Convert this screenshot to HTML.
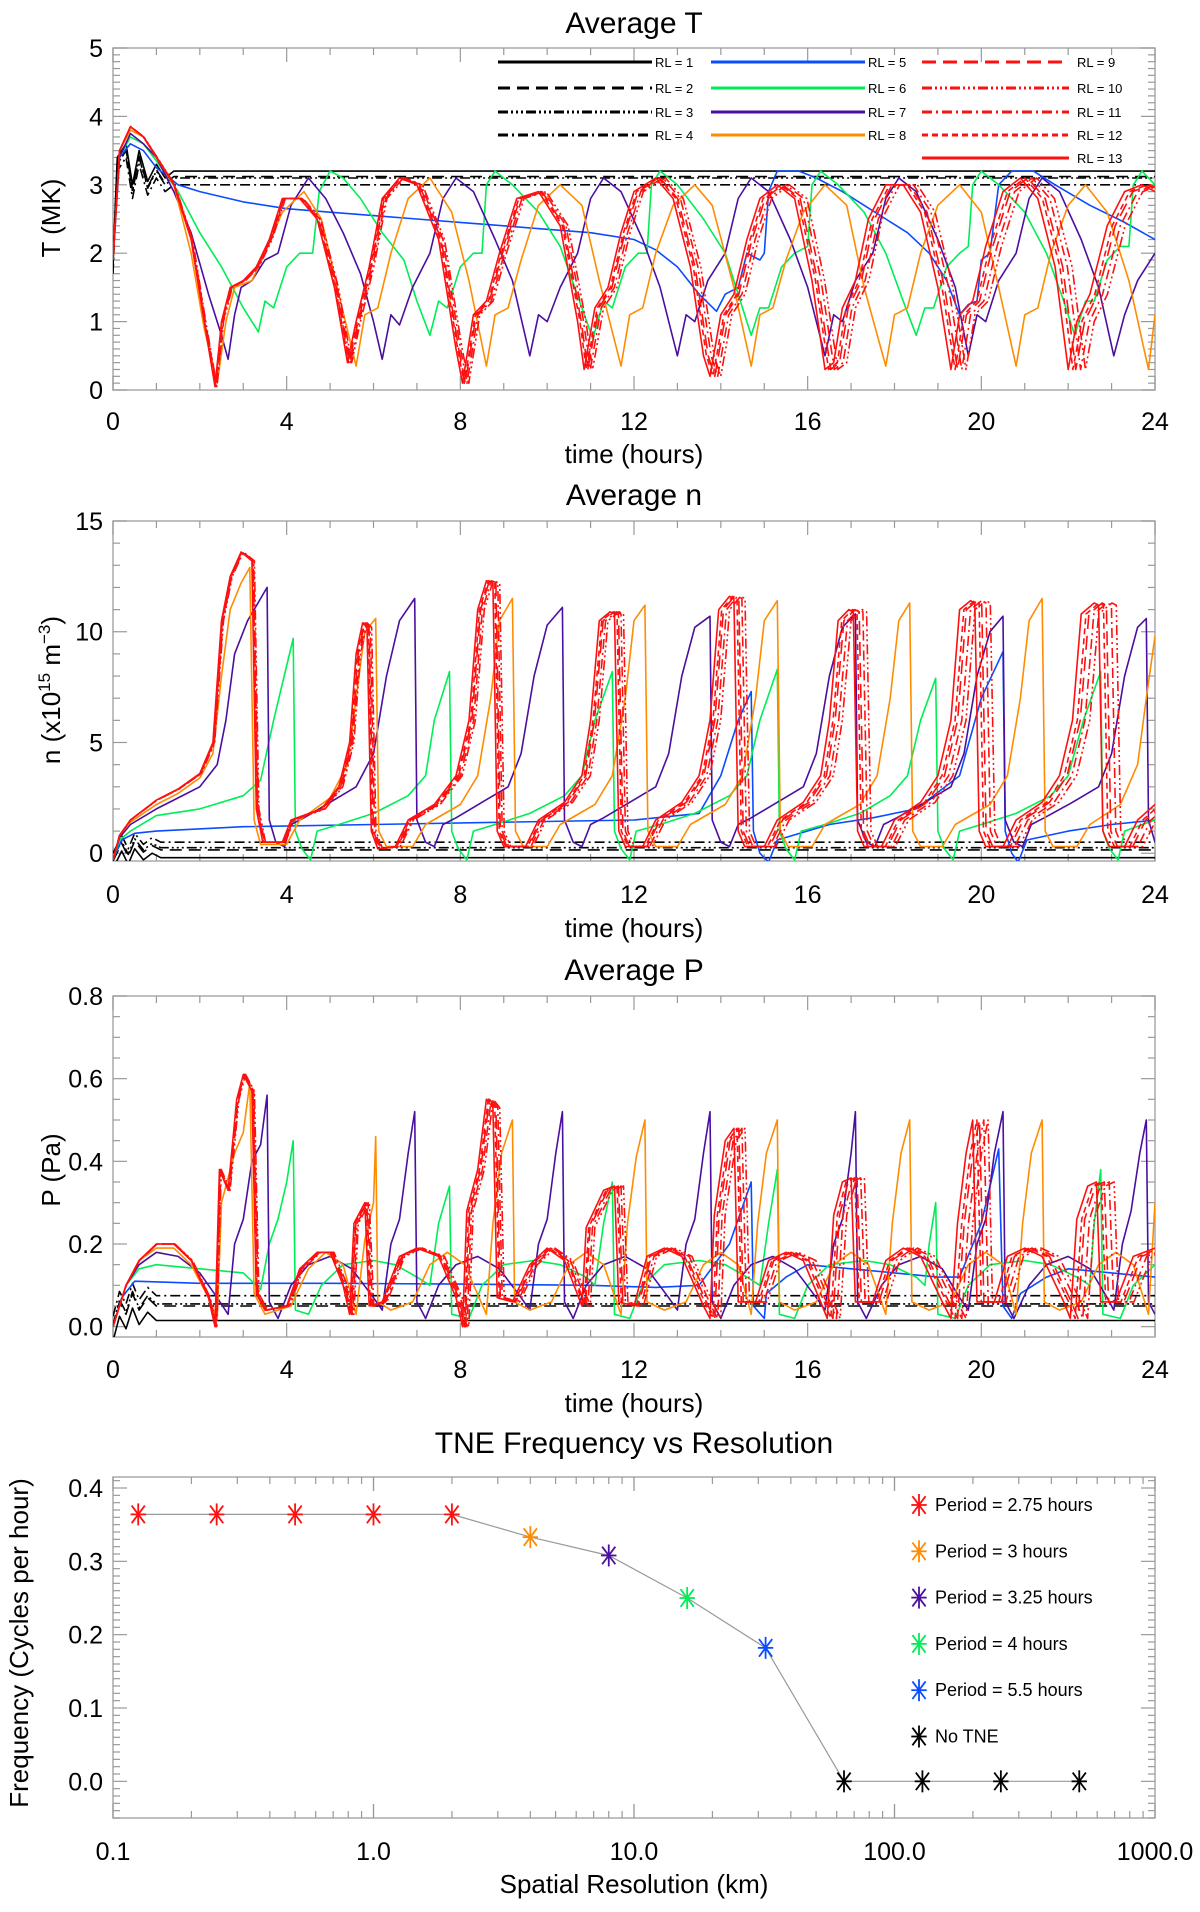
<!DOCTYPE html>
<html><head><meta charset="utf-8">
<style>
html,body{margin:0;padding:0;background:#fff;}
svg{display:block;font-family:"Liberation Sans",sans-serif;}
</style></head>
<body>
<svg id="fig" width="1200" height="1912" viewBox="0 0 1200 1912" xmlns="http://www.w3.org/2000/svg"></svg>
<script>
// ---------- DATA (time hours, value) flat pairs ----------
const tT_red = [0,1.9,.15,3.5,.4,3.85,.7,3.7,1.0,3.4,1.4,3.0,1.8,2.2,2.1,1.0,2.35,0.05,2.5,1.0,2.7,1.5,3.0,1.6,3.3,1.8,3.6,2.2,3.9,2.8,4.3,2.8,4.7,2.5,5.1,1.5,5.4,0.4,5.6,1.0,5.9,1.8,6.2,2.8,6.6,3.1,7.0,3.0,7.5,2.2,7.9,0.6,8.05,0.1,8.3,1.1,8.6,1.3,8.9,2.0,9.3,2.8,9.8,2.9,10.3,2.4,10.7,1.0,10.85,0.3,11.1,1.2,11.4,1.5,11.7,2.3,12.0,2.9,12.5,3.1,12.9,2.8,13.3,1.8,13.6,0.5,13.75,0.2,14.0,1.1,14.3,1.4,14.6,2.2,14.9,2.8,15.3,3.0,15.7,2.8,16.1,1.6,16.4,0.3,16.6,0.4,16.8,1.2,17.1,1.6,17.4,2.5,17.8,3.0,18.2,3.0,18.6,2.6,19.0,1.5,19.3,0.3,19.5,1.1,19.8,1.3,20.1,2.1,20.5,2.9,20.9,3.1,21.3,2.8,21.7,1.8,22.0,0.3,22.2,1.0,22.5,1.4,22.9,2.4,23.3,2.9,23.7,3.0,24,2.9];
const tT_orange = [0,1.9,.15,3.5,.4,3.8,.7,3.7,1.0,3.4,1.4,3.0,1.8,2.0,2.1,0.9,2.4,0.1,2.6,1.0,2.8,1.5,3.2,1.6,3.5,2.0,3.9,2.6,4.4,2.9,4.8,2.5,5.2,1.4,5.6,0.35,5.8,1.1,6.1,1.2,6.4,2.0,6.8,2.8,7.3,3.1,7.8,2.6,8.2,1.6,8.6,0.35,8.8,1.1,9.1,1.2,9.4,1.9,9.8,2.7,10.3,3.0,10.8,2.7,11.2,1.6,11.7,0.35,11.9,1.1,12.2,1.2,12.5,2.0,12.9,2.7,13.4,3.0,13.8,2.7,14.3,1.5,14.7,0.35,14.9,1.1,15.2,1.2,15.5,1.9,15.9,2.6,16.4,3.0,16.9,2.7,17.3,1.5,17.8,0.35,18.0,1.1,18.3,1.2,18.6,2.0,19.0,2.7,19.5,3.0,20.0,2.6,20.4,1.5,20.8,0.35,21.0,1.1,21.3,1.2,21.6,2.0,22.0,2.7,22.4,3.0,22.9,2.6,23.4,1.6,23.85,0.3,24,1.1];
const tT_purple = [0,1.9,.15,3.4,.4,3.75,.7,3.6,1.0,3.4,1.4,2.9,1.8,2.3,2.2,1.4,2.5,0.8,2.65,0.45,2.8,1.1,2.95,1.5,3.2,1.6,3.5,1.9,3.8,2.0,4.1,2.7,4.5,3.1,4.9,2.8,5.3,2.3,5.7,1.7,6.0,1.0,6.2,0.45,6.4,1.1,6.6,0.95,6.9,1.5,7.3,2.0,7.6,2.8,7.9,3.1,8.3,2.9,8.8,2.2,9.2,1.6,9.6,0.5,9.8,1.1,10.0,1.0,10.3,1.5,10.7,2.0,11.0,2.8,11.3,3.1,11.7,2.9,12.2,2.2,12.6,1.5,13.0,0.5,13.2,1.1,13.4,1.0,13.7,1.6,14.1,2.0,14.4,2.8,14.7,3.1,15.1,2.9,15.6,2.2,16.0,1.5,16.4,0.5,16.6,1.1,16.8,1.0,17.1,1.6,17.5,2.0,17.8,2.8,18.1,3.1,18.5,2.9,19.0,2.2,19.4,1.5,19.7,0.5,19.9,1.1,20.1,1.0,20.4,1.6,20.8,2.0,21.1,2.8,21.4,3.1,21.8,2.9,22.3,2.2,22.7,1.5,23.05,0.5,23.3,1.1,23.6,1.6,24,2.0];
const tT_green = [0,1.9,.15,3.4,.4,3.7,.7,3.6,1.0,3.35,1.5,2.9,2.0,2.3,2.5,1.8,3.0,1.2,3.35,0.85,3.5,1.3,3.7,1.2,4.0,1.8,4.3,2.0,4.6,2.0,4.75,2.9,5.0,3.2,5.3,3.1,5.7,2.8,6.2,2.3,6.7,1.9,7.0,1.3,7.3,0.8,7.5,1.3,7.7,1.2,8.0,1.8,8.3,2.0,8.5,2.0,8.6,3.0,8.8,3.2,9.2,3.0,9.8,2.6,10.3,2.1,10.8,1.2,11.05,0.75,11.3,1.3,11.5,1.2,11.8,1.8,12.1,2.0,12.3,2.0,12.4,3.0,12.6,3.2,13.0,3.0,13.6,2.5,14.1,2.0,14.5,1.2,14.7,0.8,14.9,1.2,15.1,1.2,15.4,1.8,15.7,2.0,16.0,2.1,16.1,3.0,16.3,3.2,16.7,3.0,17.3,2.6,17.8,2.0,18.2,1.3,18.5,0.8,18.7,1.2,18.9,1.2,19.2,1.8,19.5,2.0,19.7,2.1,19.8,3.0,20.0,3.2,20.4,3.0,21.0,2.6,21.5,2.0,21.9,1.3,22.15,0.8,22.4,1.3,22.6,1.3,22.9,1.9,23.2,2.1,23.4,2.1,23.5,3.0,23.7,3.2,24,3.0];
const tT_blue = [0,1.9,.15,3.4,.4,3.6,.7,3.5,1.0,3.25,1.5,3.0,2.0,2.9,3,2.75,4,2.65,5,2.6,6,2.55,7,2.5,8,2.45,9,2.4,10,2.35,11,2.3,12,2.2,12.5,2.05,13.0,1.8,13.5,1.4,13.9,1.15,14.1,1.4,14.4,1.5,14.6,2.0,14.9,1.9,15.0,2.0,15.1,2.9,15.3,3.2,15.8,3.2,16.2,3.1,16.8,2.9,17.3,2.7,17.8,2.5,18.3,2.3,18.8,2.0,19.2,1.6,19.5,1.1,19.7,1.25,19.9,1.3,20.0,1.9,20.2,2.0,20.4,3.0,20.7,3.2,21.2,3.2,21.7,3.0,22.5,2.7,23.3,2.45,24,2.2];
const tT_black_start = [0,1.9,0.1,3.4,0.3,3.6,0.45,3.0,0.6,3.5,0.8,3.05,1.0,3.3,1.2,3.1,1.4,3.2];
const tT_black_level = [3.2,3.12,3.1,3.0];

const n_red = [0,-0.3,0.15,0.8,0.4,1.5,1,2.4,1.5,2.9,2.0,3.6,2.3,5,2.5,10.5,2.7,12.5,2.95,13.6,3.2,13.2,3.3,2,3.45,0.5,3.9,0.5,4.1,1.5,4.8,2.0,5.2,3.0,5.45,5,5.6,9,5.75,10.4,5.85,10.2,5.95,1,6.1,0.2,6.5,0.3,6.8,1.5,7.4,2.2,7.9,3.5,8.2,6,8.4,11,8.6,12.3,8.75,12.2,8.85,1,9.0,0.3,9.5,0.3,9.8,1.5,10.4,2.3,10.8,3.5,11.0,6,11.2,10.5,11.45,10.9,11.55,10.8,11.65,1,11.8,0.3,12.2,0.3,12.5,1.5,13.1,2.3,13.5,3.5,13.75,6,13.95,11,14.2,11.6,14.3,11.5,14.4,1,14.55,0.3,15.0,0.3,15.3,1.5,15.9,2.3,16.3,3.5,16.5,6,16.7,10.5,16.95,11.0,17.05,10.9,17.15,1,17.3,0.3,17.7,0.3,18.0,1.5,18.6,2.3,19.0,3.5,19.3,6,19.5,11,19.75,11.4,19.85,11.3,19.95,1,20.1,0.3,20.5,0.3,20.8,1.5,21.4,2.3,21.8,3.5,22.1,6,22.3,10.8,22.6,11.3,22.7,11.2,22.8,1,22.95,0.3,23.3,0.3,23.6,1.5,24,2.2];
const n_orange = [0,-0.3,0.15,0.8,0.4,1.4,1,2.2,1.5,2.7,2.0,3.4,2.3,4.5,2.5,8,2.7,11,2.95,12.2,3.15,12.9,3.25,1.5,3.4,0.4,4.0,0.4,4.3,1.5,5.0,2.5,5.4,4,5.6,7,5.8,10,6.05,10.6,6.12,1,6.3,0.3,6.9,0.3,7.2,1.3,8.0,2.2,8.4,3.5,8.7,7,8.9,10.5,9.2,11.5,9.27,1,9.45,0.3,10.0,0.3,10.3,1.3,11.1,2.2,11.5,3.5,11.8,7,12.0,10.5,12.25,11.2,12.32,1,12.5,0.3,13.0,0.3,13.3,1.3,14.1,2.2,14.5,3.5,14.8,7,15.0,10.5,15.3,11.4,15.37,1,15.55,0.3,16.1,0.3,16.4,1.3,17.2,2.2,17.6,3.5,17.9,7,18.1,10.5,18.35,11.3,18.42,1,18.6,0.3,19.1,0.3,19.4,1.3,20.2,2.2,20.6,3.5,20.9,7,21.1,10.5,21.4,11.5,21.47,1,21.65,0.3,22.2,0.3,22.5,1.3,23.2,2.2,23.6,4,23.8,7,24,9.8];
const n_purple = [0,-0.3,0.15,0.7,0.4,1.3,1,2.0,1.5,2.5,2.0,3.0,2.4,4,2.6,6,2.8,9,3.1,10.5,3.55,12.0,3.6,1.5,3.75,0.5,3.95,0.3,4.1,1.3,4.4,1.6,5.0,2.3,5.6,3.0,6.0,4.5,6.3,8,6.6,10.5,6.95,11.5,7.0,1.5,7.2,0.5,7.4,0.3,7.6,1.3,7.9,1.6,8.5,2.3,9.1,3.0,9.4,4.5,9.7,8,10.0,10.3,10.35,11.1,10.4,1.5,10.6,0.5,10.8,0.3,11.0,1.3,11.3,1.6,11.9,2.3,12.5,3.0,12.8,4.5,13.1,8,13.4,10.2,13.75,10.7,13.8,1.5,14.0,0.5,14.2,0.3,14.4,1.3,14.7,1.6,15.3,2.3,15.9,3.0,16.2,4.5,16.5,8,16.8,10.2,17.1,10.8,17.15,1.5,17.35,0.5,17.55,0.3,17.75,1.3,18.05,1.6,18.7,2.3,19.3,3.0,19.6,4.5,19.9,8,20.2,10.0,20.5,10.7,20.55,1.5,20.75,0.5,20.95,0.3,21.15,1.3,21.45,1.6,22.1,2.3,22.7,3.0,23.0,4.5,23.3,8,23.6,10.2,23.8,10.6,23.85,1.5,24,0.5];
const n_green = [0,-0.3,0.15,0.6,0.4,1.0,1,1.7,2,2.0,3.0,2.6,3.4,3.3,3.7,6,4.15,9.7,4.2,1,4.35,0.2,4.55,-0.3,4.7,1.0,5.2,1.3,6.0,1.8,6.8,2.6,7.2,3.5,7.4,6,7.75,8.2,7.8,1,7.95,0.2,8.15,-0.3,8.3,1.0,8.8,1.3,9.6,1.8,10.4,2.6,10.8,3.5,11.1,6,11.5,8.2,11.55,1,11.7,0.2,11.9,-0.3,12.05,1.0,12.6,1.3,13.4,1.8,14.2,2.6,14.6,3.5,14.9,6,15.3,8.3,15.35,1,15.5,0.2,15.7,-0.3,15.85,1.0,16.4,1.3,17.2,1.8,17.9,2.6,18.3,3.5,18.6,6,18.95,7.9,19.0,1,19.15,0.2,19.35,-0.3,19.5,1.0,20.0,1.3,20.8,1.8,21.6,2.6,22.0,3.5,22.35,6,22.75,8.2,22.8,1,22.95,0.2,23.15,-0.3,23.3,1.0,24,1.5];
const n_blue = [0,-0.3,0.2,0.6,0.5,0.9,1,1.0,3,1.2,6,1.3,9,1.4,12,1.5,13.5,1.8,14.0,3.5,14.4,6,14.7,7.3,14.75,1,14.9,0,15.1,-0.4,15.3,0.6,16.5,1.3,17.5,1.6,18.5,2.0,19.5,3.5,20.0,7,20.5,9.1,20.55,1,20.7,0,20.85,-0.4,21.05,0.6,22,1.0,23,1.3,24,1.5];
const n_black_start = [0,-0.3,0.2,0.5,0.35,-0.1,0.5,0.6,0.7,0.1,0.9,0.4,1.1,0.2];
const n_black_level = [-0.2,0.15,0.25,0.5];

const p_red = [0,0,0.3,0.1,0.6,0.16,1.0,0.2,1.4,0.2,1.8,0.16,2.2,0.07,2.35,0.0,2.45,0.38,2.65,0.33,2.85,0.55,3.0,0.61,3.2,0.57,3.3,0.08,3.5,0.04,4.0,0.05,4.3,0.14,4.7,0.18,5.0,0.18,5.3,0.1,5.45,0.03,5.55,0.25,5.8,0.3,5.9,0.05,6.2,0.06,6.6,0.17,7.0,0.19,7.5,0.17,7.9,0.07,8.05,0.0,8.15,0.28,8.4,0.38,8.6,0.55,8.75,0.53,8.85,0.07,9.2,0.06,9.6,0.15,10.0,0.19,10.4,0.16,10.8,0.05,10.9,0.24,11.3,0.33,11.55,0.34,11.65,0.06,12.0,0.05,12.3,0.17,12.7,0.19,13.1,0.17,13.6,0.05,13.75,0.02,13.85,0.27,14.1,0.45,14.3,0.48,14.4,0.06,14.8,0.06,15.1,0.16,15.5,0.18,15.9,0.16,16.3,0.06,16.45,0.02,16.6,0.27,16.8,0.35,17.0,0.36,17.1,0.06,17.5,0.06,17.8,0.16,18.2,0.19,18.6,0.17,19.1,0.06,19.3,0.02,19.45,0.25,19.65,0.42,19.8,0.5,19.9,0.06,20.3,0.06,20.6,0.17,21.0,0.19,21.4,0.17,21.9,0.06,22.05,0.02,22.2,0.26,22.45,0.34,22.65,0.35,22.75,0.06,23.1,0.06,23.5,0.17,24,0.19];
const p_orange = [0,0,0.3,0.1,0.6,0.16,1.0,0.19,1.4,0.19,1.8,0.15,2.2,0.07,2.4,0.02,2.5,0.3,2.8,0.42,3.0,0.47,3.15,0.59,3.25,0.08,3.5,0.03,4.1,0.05,4.5,0.14,4.9,0.18,5.3,0.15,5.6,0.03,5.8,0.21,6.0,0.3,6.05,0.46,6.1,0.06,6.4,0.04,6.9,0.06,7.3,0.15,7.7,0.18,8.1,0.15,8.6,0.03,8.75,0.25,8.95,0.42,9.2,0.5,9.25,0.06,9.6,0.04,10.1,0.06,10.5,0.15,10.9,0.18,11.3,0.15,11.7,0.03,11.85,0.25,12.05,0.41,12.25,0.5,12.3,0.06,12.7,0.04,13.2,0.06,13.6,0.15,14.0,0.18,14.4,0.15,14.7,0.03,14.85,0.25,15.05,0.42,15.3,0.5,15.35,0.06,15.7,0.04,16.2,0.06,16.6,0.15,17.0,0.18,17.4,0.15,17.8,0.03,17.95,0.25,18.15,0.42,18.35,0.5,18.4,0.06,18.8,0.04,19.3,0.06,19.7,0.15,20.1,0.18,20.5,0.15,20.8,0.03,20.95,0.25,21.15,0.42,21.4,0.5,21.45,0.06,21.8,0.04,22.3,0.06,22.7,0.15,23.1,0.18,23.5,0.15,23.85,0.03,24,0.3];
const p_purple = [0,0,0.3,0.1,0.6,0.15,1.0,0.18,1.5,0.17,2.0,0.13,2.4,0.07,2.65,0.03,2.8,0.2,3.0,0.26,3.2,0.4,3.4,0.44,3.55,0.56,3.6,0.06,3.8,0.02,4.1,0.1,4.5,0.15,5.0,0.17,5.5,0.14,6.0,0.07,6.2,0.04,6.4,0.2,6.6,0.26,6.8,0.42,6.95,0.52,7.0,0.06,7.2,0.02,7.5,0.1,7.9,0.15,8.4,0.17,8.9,0.14,9.4,0.07,9.6,0.04,9.8,0.2,10.0,0.26,10.2,0.42,10.35,0.52,10.4,0.06,10.6,0.02,10.9,0.1,11.3,0.15,11.8,0.17,12.3,0.14,12.8,0.07,13.0,0.04,13.2,0.2,13.4,0.26,13.6,0.42,13.75,0.52,13.8,0.06,14.0,0.02,14.3,0.1,14.7,0.15,15.2,0.17,15.7,0.14,16.2,0.07,16.4,0.04,16.6,0.2,16.8,0.26,17.0,0.42,17.1,0.52,17.15,0.06,17.35,0.02,17.7,0.1,18.1,0.15,18.6,0.17,19.1,0.14,19.5,0.07,19.7,0.04,19.9,0.2,20.1,0.26,20.3,0.42,20.5,0.52,20.55,0.06,20.75,0.02,21.1,0.1,21.5,0.15,22.0,0.17,22.5,0.14,22.9,0.07,23.05,0.04,23.25,0.2,23.45,0.28,23.65,0.42,23.8,0.5,23.85,0.06,24,0.03];
const p_green = [0,0,0.3,0.1,0.6,0.14,1.0,0.15,2.0,0.14,3.0,0.13,3.4,0.09,3.6,0.2,3.8,0.26,4.0,0.35,4.15,0.45,4.2,0.04,4.5,0.03,4.8,0.1,5.3,0.15,6.0,0.16,6.5,0.15,7.0,0.12,7.3,0.1,7.5,0.25,7.75,0.34,7.8,0.03,8.2,0.02,8.5,0.1,9.0,0.15,9.7,0.16,10.3,0.15,10.9,0.12,11.1,0.1,11.3,0.25,11.5,0.35,11.55,0.03,11.9,0.02,12.2,0.1,12.7,0.15,13.5,0.16,14.1,0.15,14.6,0.12,14.9,0.1,15.1,0.25,15.3,0.38,15.35,0.03,15.7,0.02,16.0,0.1,16.5,0.15,17.3,0.16,17.9,0.15,18.5,0.12,18.7,0.1,18.8,0.2,18.95,0.3,19.0,0.03,19.4,0.02,19.7,0.1,20.2,0.15,21.0,0.16,21.6,0.15,22.2,0.12,22.5,0.1,22.6,0.25,22.75,0.38,22.8,0.03,23.2,0.02,23.5,0.1,24,0.15];
const p_blue = [0,0,0.2,0.07,0.5,0.11,2,0.105,5,0.105,8,0.103,11,0.1,12.5,0.095,13.5,0.1,14.2,0.2,14.7,0.35,14.75,0.05,15.0,0.02,15.05,0.08,15.5,0.12,16,0.15,17,0.14,18,0.13,19,0.12,19.5,0.12,20.0,0.25,20.4,0.43,20.5,0.05,20.7,0.02,20.9,0.08,21.5,0.12,22,0.14,23,0.13,24,0.12];
const p_black_start = [0,0,0.15,0.06,0.3,0.03,0.45,0.08,0.6,0.04,0.8,0.07,1.0,0.05];
const p_black_level = [0.015,0.05,0.055,0.075];

// red variants RL9..RL12 time stretch (RL13 = 0)
const redStretch = [0.008,0.018,0.013,0.005,0];

// TNE frequency panel
const resolution = [0.125,0.25,0.5,1,2,4,8,16,32,64,128,256,512];
const frequency = [0.364,0.364,0.364,0.364,0.364,0.333,0.308,0.25,0.182,0,0,0,0];
const pointGroup = [0,0,0,0,0,1,2,3,4,5,5,5,5];
const groupLabels = ["Period = 2.75 hours","Period = 3 hours","Period = 3.25 hours","Period = 4 hours","Period = 5.5 hours","No TNE"];
const tLabels = ["0","4","8","12","16","20","24"];

// ---------- RENDER ----------
const NS="http://www.w3.org/2000/svg";
const svg=document.getElementById('fig');
function el(tag,attrs,parent){const e=document.createElementNS(NS,tag);for(const k in attrs)e.setAttribute(k,attrs[k]);(parent||svg).appendChild(e);return e;}
const COL={red:'#ff1010',orange:'#ff8c00',purple:'#4b0fa0',green:'#00ee55',blue:'#0a4cff',black:'#000'};
const blackDash=['none','12,7','10,3,2,3,2,3,2,3','10,4,2,4'];
const redDash=['14,7','10,3,2,3,2,3,2,3','10,4,2,4','6,4','none'];
const L=113,R=1155;

function panel(name,top,bot,ymin,ymax,yMajor,yMinor,ylabels,title,titleY){
  const g=el('g',{});
  
  
  const sy=v=>bot-(v-ymin)/(ymax-ymin)*(bot-top);
  const t=el('text',{x:634,y:titleY,'font-size':30,'text-anchor':'middle',fill:'#000'},g);t.textContent=title;
  
  el('rect',{x:L,y:top,width:R-L,height:bot-top,fill:'none',stroke:'#aaa','stroke-width':1.5},g);
  const ax=el('g',{stroke:'#999','stroke-width':1.2},g);
  
  for(let v=Math.ceil(ymin/yMinor-1e-6)*yMinor;v<=ymax+1e-9;v+=yMinor){
    const major=Math.abs(v/yMajor-Math.round(v/yMajor))<1e-6;const len=major?14:7;const y=sy(v);
    el('line',{x1:L,x2:L+len,y1:y,y2:y},ax);el('line',{x1:R,x2:R-len,y1:y,y2:y},ax);}
  return {g,sy,top,bot};
}
function xTicksLinear(p,name,xlabY,xtitleY,xtitle){
  const sx=t=>L+t/24*(R-L);
  const ax=el('g',{stroke:'#999','stroke-width':1.2},p.g);
  for(let t=0;t<=24;t++){const len=t%4===0?14:7;el('line',{x1:sx(t),x2:sx(t),y1:p.bot,y2:p.bot-len},ax);el('line',{x1:sx(t),x2:sx(t),y1:p.top,y2:p.top+len},ax);}
  tLabels.forEach(s=>{const tx=el('text',{x:sx(+s),y:xlabY,'font-size':25,'text-anchor':'middle'},p.g);tx.textContent=s;
    });
  const xt=el('text',{x:634,y:xtitleY,'font-size':26,'text-anchor':'middle'},p.g);xt.textContent=xtitle;
  
  return sx;
}
function yLabels(p,vals,fmt){vals.forEach(v=>{const tx=el('text',{x:103,y:p.sy(v)+9,'font-size':25,'text-anchor':'end'},p.g);tx.textContent=fmt(v);
  });}
function yTitle(p,name,x,y,html){const tx=el('text',{x:x,y:y,'font-size':26,'text-anchor':'middle',transform:`rotate(-90 ${x} ${y})`},p.g);tx.innerHTML=html;
  }
let clipN=0;
function drawSeries(p,sx,arr,color,dash,name,stretch){
  const id='clip'+(clipN++);const cp=el('clipPath',{id:id},p.g);el('rect',{x:L,y:p.top,width:R-L,height:p.bot-p.top},cp);
  let d='';for(let i=0;i<arr.length;i+=2){d+=(i?'L':'M')+sx(arr[i]*(1+stretch)).toFixed(1)+','+p.sy(arr[i+1]).toFixed(1);}
  const pa=el('path',{d:d,fill:'none',stroke:color,'stroke-width':1.6,'stroke-dasharray':dash,'clip-path':`url(#${id})`,'stroke-linejoin':'round'},p.g);
  
}
function drawBlack(p,sx,start,levels,name){
  levels.forEach((lv,i)=>{
    const arr=start.slice();for(let k=1;k<arr.length;k+=2)arr[k]=arr[k]+(lv-start[start.length-1]);
    arr.push(24,lv);
    drawSeries(p,sx,arr,COL.black,blackDash[i],name+'-rl'+(i+1),0);
  });
}
function drawAll(p,sx,set,prefix){
  drawBlack(p,sx,set.bs,set.bl,prefix);
  drawSeries(p,sx,set.blue,COL.blue,'none',prefix+'-rl5',0);
  drawSeries(p,sx,set.green,COL.green,'none',prefix+'-rl6',0);
  drawSeries(p,sx,set.purple,COL.purple,'none',prefix+'-rl7',0);
  drawSeries(p,sx,set.orange,COL.orange,'none',prefix+'-rl8',0);
  redStretch.forEach((s,i)=>drawSeries(p,sx,set.red,COL.red,redDash[i],prefix+'-rl'+(9+i),s));
}

// Panel T
const pT=panel('temperature',48,390,0,5,1,0.1,null,'Average T',33);
const sxT=xTicksLinear(pT,'temperature',430,463,'time (hours)');
yLabels(pT,[0,1,2,3,4,5],v=>String(v));
yTitle(pT,'temperature',60,218,'T (MK)');
drawAll(pT,sxT,{bs:tT_black_start,bl:tT_black_level,blue:tT_blue,green:tT_green,purple:tT_purple,orange:tT_orange,red:tT_red},'temp');

// Legend
const leg=el('g',{'font-size':13});

const legCols=[{x1:498,x2:652,tx:655},{x1:711,x2:865,tx:868},{x1:922,x2:1069,tx:1077}];
const legRows=[62,88,112,135,158];
const legItems=[[0,0,COL.black,blackDash[0]],[0,1,COL.black,blackDash[1]],[0,2,COL.black,blackDash[2]],[0,3,COL.black,blackDash[3]],
 [1,0,COL.blue,'none'],[1,1,COL.green,'none'],[1,2,COL.purple,'none'],[1,3,COL.orange,'none'],
 [2,0,COL.red,redDash[0]],[2,1,COL.red,redDash[1]],[2,2,COL.red,redDash[2]],[2,3,COL.red,redDash[3]],[2,4,COL.red,redDash[4]]];
legItems.forEach((it,i)=>{const c=legCols[it[0]],y=legRows[it[1]];
  const e=el('g',{},leg);
  el('line',{x1:c.x1,x2:c.x2,y1:y,y2:y,stroke:it[2],'stroke-width':3,'stroke-dasharray':it[3]},e);
  const tx=el('text',{x:c.tx,y:y+5},e);tx.textContent='RL = '+(i+1);});

// Panel n
const pN=panel('density',521,861,-0.35,15,5,1,null,'Average n',505);
const sxN=xTicksLinear(pN,'density',903,937,'time (hours)');
yLabels(pN,[0,5,10,15],v=>String(v));
yTitle(pN,'density',60,690,'n (x10<tspan dy="-10" font-size="17">15</tspan><tspan dy="10"> m</tspan><tspan dy="-10" font-size="17">−3</tspan><tspan dy="10">)</tspan>');
drawAll(pN,sxN,{bs:n_black_start,bl:n_black_level,blue:n_blue,green:n_green,purple:n_purple,orange:n_orange,red:n_red},'density');

// Panel P
const pP=panel('pressure',996,1337,-0.025,0.8,0.2,0.05,null,'Average P',980);
const sxP=xTicksLinear(pP,'pressure',1378,1412,'time (hours)');
yLabels(pP,[0,0.2,0.4,0.6,0.8],v=>v.toFixed(1));
yTitle(pP,'pressure',60,1170,'P (Pa)');
drawAll(pP,sxP,{bs:p_black_start,bl:p_black_level,blue:p_blue,green:p_green,purple:p_purple,orange:p_orange,red:p_red},'pressure');

// Panel frequency (log x)
const pF=panel('frequency',1477,1818,-0.05,0.415,0.1,0.01,null,'TNE Frequency vs Resolution',1453);
const sxF=v=>L+(Math.log10(v)+1)/4*(R-L);
(function(){const ax=el('g',{stroke:'#999','stroke-width':1.2},pF.g);
  for(let e=-1;e<3;e++)for(let m=1;m<=10;m++){const v=m*Math.pow(10,e);const len=m===1||m===10?14:7;const x=sxF(v);
    el('line',{x1:x,x2:x,y1:pF.bot,y2:pF.bot-len},ax);el('line',{x1:x,x2:x,y1:pF.top,y2:pF.top+len},ax);}
  ['0.1','1.0','10.0','100.0','1000.0'].forEach(s=>{const tx=el('text',{x:sxF(+s),y:1860,'font-size':25,'text-anchor':'middle'},pF.g);tx.textContent=s;
    });
  const xt=el('text',{x:634,y:1893,'font-size':26,'text-anchor':'middle'},pF.g);xt.textContent='Spatial Resolution (km)';
  })();
yLabels(pF,[0,0.1,0.2,0.3,0.4],v=>v.toFixed(1));
yTitle(pF,'frequency',28,1643,'Frequency (Cycles per hour)');
const gCol=[COL.red,COL.orange,COL.purple,COL.green,COL.blue,COL.black];
let dl='';resolution.forEach((r,i)=>{dl+=(i?'L':'M')+sxF(r).toFixed(1)+','+pF.sy(frequency[i]).toFixed(1);});
const ln=el('path',{d:dl,fill:'none',stroke:'#999','stroke-width':1.2},pF.g);

function star(cx,cy,c,parent){const g=el('g',{stroke:c,'stroke-width':1.8},parent);const r=11;
  el('line',{x1:cx,x2:cx,y1:cy-r,y2:cy+r},g);
  el('line',{x1:cx-r*0.6,x2:cx+r*0.6,y1:cy-r*0.8,y2:cy+r*0.8},g);
  el('line',{x1:cx-r*0.6,x2:cx+r*0.6,y1:cy+r*0.8,y2:cy-r*0.8},g);
  el('line',{x1:cx-r*0.7,x2:cx+r*0.7,y1:cy,y2:cy},g);return g;}
resolution.forEach((r,i)=>{const s=star(sxF(r),pF.sy(frequency[i]),gCol[pointGroup[i]],pF.g);
  });
const fl=el('g',{'font-size':18},pF.g);
groupLabels.forEach((s,i)=>{const y=1505+i*46.3;const e=el('g',{},fl);
  
  star(919,y,gCol[i],e);const tx=el('text',{x:935,y:y+6},e);tx.textContent=s;});
</script>
</body></html>
